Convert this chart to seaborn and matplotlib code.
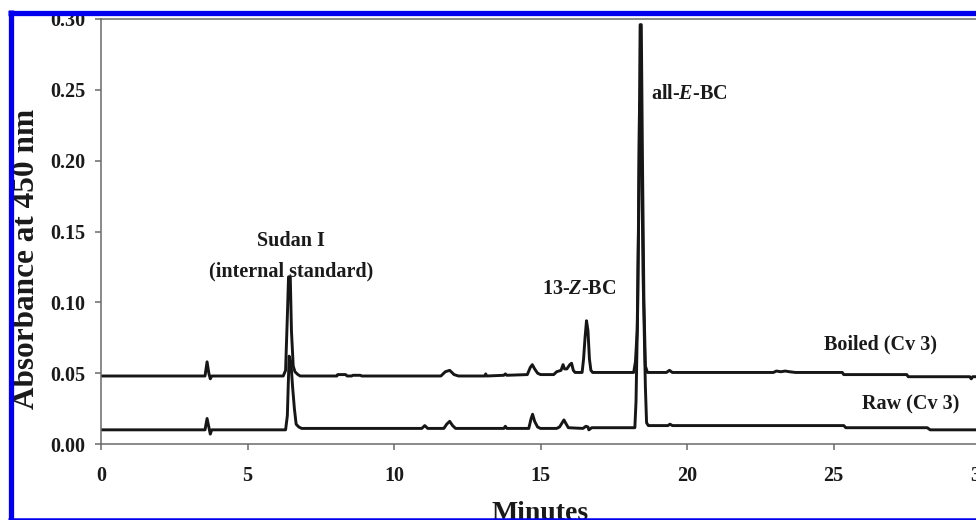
import matplotlib
matplotlib.use("Agg")
import matplotlib.pyplot as plt
from matplotlib.lines import Line2D
import seaborn as sns
import pandas as pd

# ---- data ----
boiled_t = [0.0, 3.55, 3.62, 3.68, 3.73, 3.78, 6.22, 6.30, 6.36, 6.40, 6.46, 6.50, 6.56, 6.62,
            6.72, 6.80, 8.05, 8.08, 8.35, 8.40, 8.55, 8.60, 8.85, 8.90, 11.6, 11.75, 11.9, 12.05,
            12.2, 13.1, 13.13, 13.16, 13.75, 13.8, 13.85, 14.55, 14.65, 14.72, 14.8, 14.9, 15.0,
            15.45, 15.55, 15.7, 15.77, 15.82, 15.9, 16.0, 16.06, 16.12, 16.18, 16.42, 16.47,
            16.52, 16.57, 16.62, 16.67, 16.72, 16.78, 18.18, 18.24, 18.30, 18.35, 18.40, 18.44,
            18.48, 18.53, 18.58, 18.65, 19.3, 19.4, 19.5, 22.95, 23.05, 23.2, 23.35, 23.5, 23.7,
            25.3, 25.35, 27.5, 27.55, 29.65, 29.7, 29.75, 31.0]
boiled_abs = [0.048, 0.048, 0.058, 0.050, 0.046, 0.048, 0.048, 0.052, 0.090, 0.118, 0.118, 0.080,
              0.055, 0.051, 0.049, 0.048, 0.048, 0.049, 0.049, 0.048, 0.048, 0.0485, 0.0485, 0.048,
              0.048, 0.051, 0.052, 0.049, 0.048, 0.048, 0.0495, 0.048, 0.0485, 0.0495, 0.0485,
              0.049, 0.054, 0.056, 0.053, 0.050, 0.049, 0.049, 0.051, 0.052, 0.056, 0.053, 0.053,
              0.056, 0.057, 0.052, 0.0505, 0.0505, 0.060, 0.075, 0.087, 0.080, 0.060, 0.052,
              0.0505, 0.0505, 0.058, 0.080, 0.160, 0.296, 0.296, 0.200, 0.100, 0.055, 0.0505,
              0.0505, 0.052, 0.0505, 0.0505, 0.0515, 0.051, 0.0515, 0.051, 0.0505, 0.0505, 0.049,
              0.049, 0.0475, 0.0475, 0.046, 0.0475, 0.0475]

raw_t = [0.0, 3.55, 3.62, 3.68, 3.73, 3.78, 6.30, 6.36, 6.42, 6.48, 6.54, 6.60, 6.66, 6.75, 6.85,
         10.95, 11.05, 11.15, 11.7, 11.8, 11.9, 12.0, 12.1, 13.75, 13.8, 13.85, 14.6, 14.68,
         14.73, 14.8, 14.9, 15.0, 15.55, 15.65, 15.8, 15.88, 15.95, 16.45, 16.55, 16.62, 16.65,
         16.75, 18.22, 18.26, 18.32, 18.38, 18.43, 18.50, 18.58, 18.62, 18.68, 19.35, 19.42,
         19.5, 25.35, 25.42, 28.2, 28.3, 31.0]
raw_abs = [0.010, 0.010, 0.018, 0.012, 0.007, 0.010, 0.010, 0.020, 0.062, 0.058, 0.040, 0.025,
           0.014, 0.012, 0.011, 0.011, 0.013, 0.011, 0.011, 0.014, 0.016, 0.013, 0.011, 0.011,
           0.0125, 0.011, 0.011, 0.018, 0.021, 0.016, 0.012, 0.011, 0.011, 0.012, 0.017, 0.014,
           0.0115, 0.011, 0.0125, 0.012, 0.010, 0.0115, 0.0115, 0.030, 0.100, 0.240, 0.240,
           0.120, 0.040, 0.015, 0.013, 0.013, 0.014, 0.013, 0.013, 0.0115, 0.0115, 0.010, 0.010]

x_ticks = [0, 5, 10, 15, 20, 25, 30]
y_ticks = [0.00, 0.05, 0.10, 0.15, 0.20, 0.25, 0.30]

df = pd.concat([
    pd.DataFrame({"Minutes": boiled_t, "Absorbance": boiled_abs, "sample": "Boiled"}),
    pd.DataFrame({"Minutes": raw_t, "Absorbance": raw_abs, "sample": "Raw"}),
], ignore_index=True)

sns.set_theme(style="ticks")
plt.rcParams["font.family"] = ["Liberation Serif", "DejaVu Serif"]
plt.rcParams["font.weight"] = "bold"
plt.rcParams["mathtext.fontset"] = "custom"
plt.rcParams["mathtext.rm"] = "Liberation Serif:bold"
plt.rcParams["mathtext.it"] = "Liberation Serif:italic:bold"

fig = plt.figure(figsize=(9.76, 5.2), dpi=100)
ax = fig.add_axes([101 / 976, 76 / 520, 879 / 976, 425 / 520])

sns.lineplot(data=df, x="Minutes", y="Absorbance", hue="sample",
             palette={"Boiled": "#161616", "Raw": "#161616"},
             estimator=None, sort=False, linewidth=2.1, legend=False, ax=ax)

ax.set_xlim(0, 30)
ax.set_ylim(0, 0.30)
ax.set_xticks(x_ticks)
ax.set_xticklabels([str(v) for v in x_ticks])
ax.set_yticks(y_ticks)
ax.set_yticklabels([f"{v:.2f}" for v in y_ticks])

spine_col = "#6a6a6a"
for s in ["left", "bottom", "top", "right"]:
    ax.spines[s].set_visible(True)
    ax.spines[s].set_color(spine_col)
    ax.spines[s].set_linewidth(1.1)

ax.tick_params(axis="both", direction="out", color=spine_col, width=1.1, length=4.5,
               labelsize=14.5, labelcolor="#1a1a1a")
ax.tick_params(axis="y", pad=7)
ax.tick_params(axis="x", pad=11)
for lab in ax.get_xticklabels() + ax.get_yticklabels():
    lab.set_fontweight("bold")

ax.set_xlabel("Minutes", fontsize=20, fontweight="bold", color="#1a1a1a")
ax.set_ylabel("Absorbance at 450 nm", fontsize=22.5, fontweight="bold", color="#1a1a1a")
ax.xaxis.set_label_coords(540 / 976, (520 - 514) / 520, transform=fig.transFigure)
ax.yaxis.set_label_coords(26.5 / 976, (520 - 259) / 520, transform=fig.transFigure)
ax.xaxis.label.set_va("center")
ax.yaxis.label.set_va("center")

txt = dict(fontsize=14.5, fontweight="bold", color="#1a1a1a", va="center")
ax.text(6.48, 0.1433, "Sudan I", ha="center", **txt)
ax.text(6.48, 0.1220, "(internal standard)", ha="center", **txt)
ax.text(16.31, 0.1094, "13-$\\mathit{Z}$-BC", ha="center", **txt)
ax.text(18.77, 0.2470, "all-$\\mathit{E}$-BC", ha="left", **txt)
ax.text(26.62, 0.0699, "Boiled (Cv 3)", ha="center", **txt)
ax.text(27.65, 0.0282, "Raw (Cv 3)", ha="center", **txt)

# blue selection frame around the cropped figure
blue = "#0000ee"
fig.add_artist(Line2D([10.5 / 976, 10.5 / 976], [0, 1 - 10 / 520], color=blue,
                      linewidth=3.8, transform=fig.transFigure, solid_capstyle="butt"))
fig.add_artist(Line2D([8 / 976, 1], [1 - 12.5 / 520, 1 - 12.5 / 520], color=blue,
                      linewidth=3.8, transform=fig.transFigure, solid_capstyle="butt"))
fig.add_artist(Line2D([8 / 976, 1], [1.2 / 520, 1.2 / 520], color=blue,
                      linewidth=1.8, transform=fig.transFigure, solid_capstyle="butt"))

fig.savefig("out.png", dpi=100)
